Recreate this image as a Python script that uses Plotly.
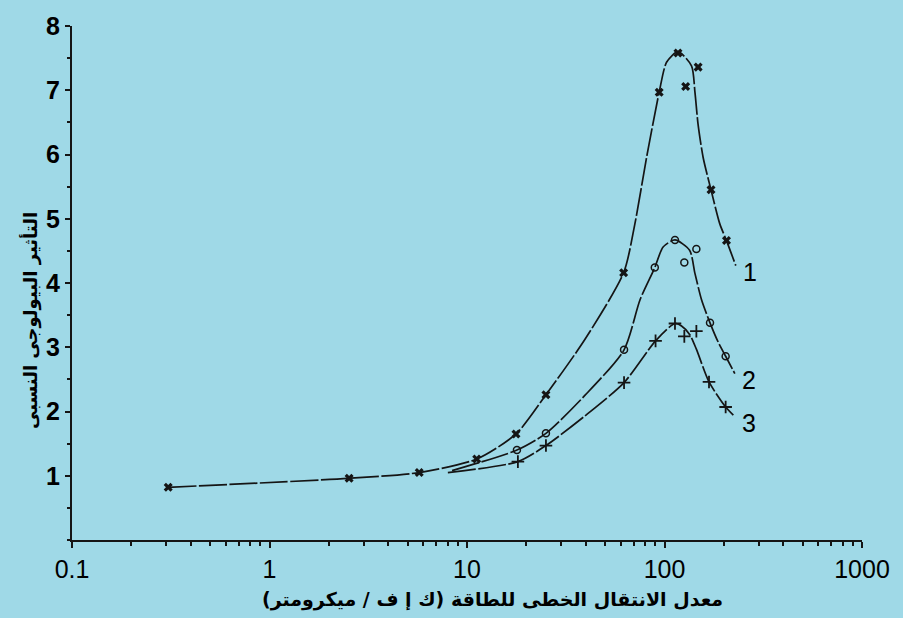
import math
import plotly.graph_objects as go

# Measured points (linear energy transfer, keV/µm  ->  relative biological effectiveness)
let_1 = [0.307, 2.53, 5.73, 11.2, 17.7, 25.1, 62.1, 94.0, 117, 128, 148, 172, 206]
rbe_1 = [0.82, 0.96, 1.05, 1.26, 1.65, 2.26, 4.16, 6.97, 7.58, 7.06, 7.36, 5.45, 4.66]

let_2 = [17.9, 25.1, 62.4, 89.3, 113, 126, 145, 170, 204]
rbe_2 = [1.40, 1.66, 2.96, 4.24, 4.67, 4.32, 4.53, 3.38, 2.86]

let_3 = [18.1, 25.1, 62.4, 90.1, 113, 126, 145, 168, 204]
rbe_3 = [1.22, 1.47, 2.45, 3.10, 3.37, 3.17, 3.25, 2.46, 2.07]

# Hand-fitted smooth curves through the measurements
fit_let_1 = [0.307, 2.53, 5.73, 11.2, 17.7, 25.1, 39.5, 62.1, 70.8, 81.1, 94.0, 102.6, 117,
             137, 142.6, 148, 157, 172, 190.6, 206, 229.6]
fit_rbe_1 = [0.82, 0.96, 1.05, 1.26, 1.65, 2.26, 3.12, 4.16, 4.92, 5.95, 6.97, 7.44, 7.60,
             7.38, 6.97, 6.46, 5.95, 5.45, 4.92, 4.66, 4.27]

fit_let_2 = [8.4, 17.9, 25.1, 39.5, 62.4, 75.2, 89.3, 98.4, 113, 134, 142.6, 154, 170, 187, 204, 227]
fit_rbe_2 = [1.08, 1.40, 1.66, 2.25, 2.96, 3.74, 4.24, 4.56, 4.67, 4.51, 4.15, 3.74, 3.38, 3.08, 2.86, 2.59]

fit_let_3 = [8.0, 18.1, 25.1, 39.5, 62.4, 90.1, 113, 122, 134, 145, 168, 204, 227]
fit_rbe_3 = [1.05, 1.22, 1.47, 1.93, 2.45, 3.10, 3.37, 3.33, 3.20, 2.97, 2.46, 2.07, 1.92]

curve_labels = ["1", "2", "3"]
x_tick_vals = [0.1, 1, 10, 100, 1000]
x_tick_text = ["0.1", "1", "10", "100", "1000"]
y_tick_vals = [1, 2, 3, 4, 5, 6, 7, 8]

x_title = "معدل الانتقال الخطى للطاقة (ك إ ف / ميكرومتر)"
y_title = "التأثير البيولوجى النسبى"

BG = "#9fd9e7"
INK = "#151515"
ARABIC_FONT = "DejaVu Sans"

fig = go.Figure()

line_style = dict(color=INK, width=1.7, shape="spline", smoothing=0.7, dash="28px,2.5px")
for fx, fy in [(fit_let_1, fit_rbe_1), (fit_let_2, fit_rbe_2), (fit_let_3, fit_rbe_3)]:
    fig.add_trace(go.Scatter(x=fx, y=fy, mode="lines", line=line_style,
                             hoverinfo="skip", showlegend=False))

fig.add_trace(go.Scatter(x=let_1, y=rbe_1, mode="markers", showlegend=False,
                         marker=dict(symbol="x", size=8, color=INK)))
fig.add_trace(go.Scatter(x=let_2, y=rbe_2, mode="markers", showlegend=False,
                         marker=dict(symbol="circle-open", size=7,
                                     color=INK, line=dict(width=1.5, color=INK))))
fig.add_trace(go.Scatter(x=let_3, y=rbe_3, mode="markers", showlegend=False,
                         marker=dict(symbol="cross-thin", size=9,
                                     line=dict(width=1.8, color=INK))))

# Curve numbers placed just past the end of each fitted curve (log-axis units for x)
for lab, fx, fy in [(curve_labels[0], fit_let_1, fit_rbe_1),
                    (curve_labels[1], fit_let_2, fit_rbe_2),
                    (curve_labels[2], fit_let_3, fit_rbe_3)]:
    fig.add_annotation(x=math.log10(fx[-1]) + 0.07, y=fy[-1] - 0.1, xref="x", yref="y",
                       text=lab, showarrow=False, xanchor="center", yanchor="middle",
                       font=dict(family="Liberation Sans", size=25, color="#000"))

fig.update_layout(
    width=903, height=618, autosize=False,
    margin=dict(l=72, r=41, t=20, b=78, pad=0),
    paper_bgcolor=BG, plot_bgcolor=BG,
    font=dict(family="Liberation Sans", color="#000"),
)

fig.update_xaxes(
    type="log", range=[-1, 3],
    tickvals=x_tick_vals, ticktext=x_tick_text,
    ticks="outside", ticklen=6, tickwidth=1.5, tickcolor=INK,
    showline=True, linecolor=INK, linewidth=2,
    showgrid=False, zeroline=False,
    tickfont=dict(family="Liberation Sans", size=25, color="#000"),
    minor=dict(ticks="outside", ticklen=4, tickwidth=1.5, tickcolor=INK,
               dtick="D1", showgrid=False),
)
fig.update_yaxes(
    range=[0, 8],
    tickvals=y_tick_vals,
    ticks="outside", ticklen=5, tickwidth=1.5, tickcolor=INK,
    showline=True, linecolor=INK, linewidth=2,
    showgrid=False, zeroline=False,
    tickfont=dict(family="Liberation Sans", size=25, color="#000", weight="bold"),
    minor=dict(ticks="outside", ticklen=3, tickwidth=1.5, tickcolor=INK,
               dtick=0.5, showgrid=False),
)

fig.add_annotation(xref="paper", yref="paper", x=0.532, y=-0.115,
                   text=x_title, showarrow=False, xanchor="center", yanchor="middle",
                   font=dict(family=ARABIC_FONT, size=19, color="#000", weight="bold"))
fig.add_annotation(xref="paper", yref="paper", x=-0.0525, y=0.427,
                   text=y_title, showarrow=False, textangle=-90,
                   xanchor="center", yanchor="middle",
                   font=dict(family=ARABIC_FONT, size=18, color="#000", weight="bold"))

fig.write_html("out.html")
